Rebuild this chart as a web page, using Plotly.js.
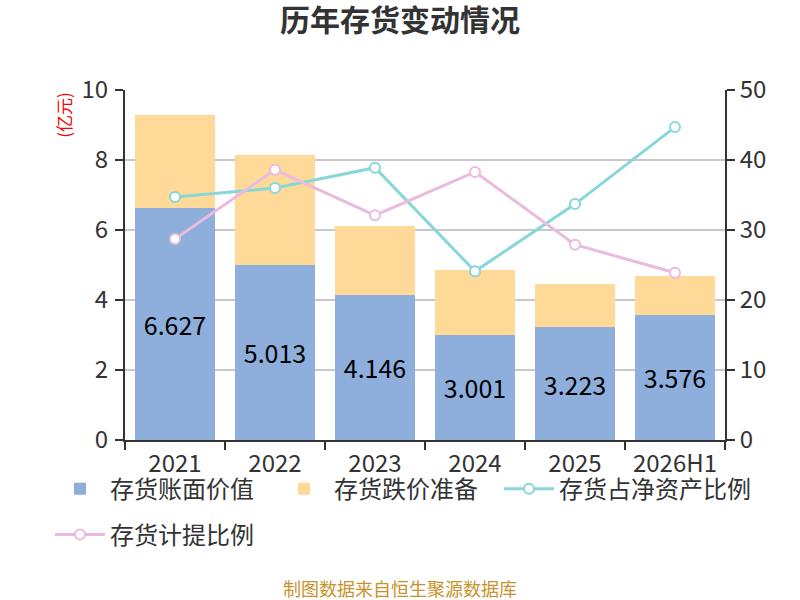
<!DOCTYPE html>
<html>
<head>
<meta charset="utf-8">
<script src="https://cdn.plot.ly/plotly-3.0.1.min.js"></script>
<style>
  html, body { margin: 0; padding: 0; background: #fff; }
  #chart { width: 800px; height: 600px; }
</style>
</head>
<body>
<div id="chart"></div>
<script>
const years = ["2021", "2022", "2023", "2024", "2025", "2026H1"];
const bookValue = [6.627, 5.013, 4.146, 3.001, 3.223, 3.576];
const impairment = [2.66, 3.14, 1.97, 1.86, 1.24, 1.11];
const shareOfNetAssets = [34.7, 36.0, 38.9, 24.1, 33.7, 44.7];
const provisionRatio = [28.7, 38.6, 32.1, 38.3, 27.9, 23.9];

const font = "'Noto Sans CJK SC', 'Noto Sans', sans-serif";
const legendFont = {size: 24, color: "#333", family: font};
const clear = "rgba(0,0,0,0)";

const traces = [
    {
        x: years,
        y: bookValue,
        type: "bar",
        name: "存货账面价值",
        legend: "legend",
        marker: {color: "#8eaedb"},
        text: bookValue.map(v => v.toFixed(3)),
        textposition: "inside",
        insidetextanchor: "middle",
        textfont: {size: 25, color: "#000", family: font},
        hoverinfo: "y"
    },
    {
        x: years,
        y: impairment,
        type: "bar",
        name: "存货跌价准备",
        legend: "legend",
        marker: {color: "#ffd997"},
        hoverinfo: "y"
    },
    {
        x: years,
        y: shareOfNetAssets,
        type: "scatter",
        mode: "lines+markers",
        name: "存货占净资产比例",
        legend: "legend2",
        yaxis: "y2",
        line: {color: "#88d6d8", width: 3},
        marker: {symbol: "circle", size: 10, color: "#fff", line: {color: "#88d6d8", width: 2}}
    },
    {
        x: years,
        y: provisionRatio,
        type: "scatter",
        mode: "lines+markers",
        name: "存货计提比例",
        legend: "legend3",
        yaxis: "y2",
        line: {color: "#e9bbdc", width: 3},
        marker: {symbol: "circle", size: 10, color: "#fff", line: {color: "#e9bbdc", width: 2}}
    }
];

const axisStyle = {
    showline: true,
    linecolor: "#333",
    linewidth: 2,
    ticks: "outside",
    ticklen: 8,
    tickcolor: "#333",
    tickwidth: 2,
    tickfont: {size: 24, color: "#333"}
};

const layout = {
    width: 800,
    height: 600,
    margin: {l: 125, r: 75, t: 90, b: 160},
    paper_bgcolor: "#fff",
    plot_bgcolor: "#fff",
    font: {family: font, color: "#333", size: 24},
    title: {
        text: "<b>历年存货变动情况</b>",
        font: {family: font, size: 30, color: "#333"},
        x: 0.5,
        xanchor: "center",
        y: 0.966,
        yanchor: "middle"
    },
    barmode: "stack",
    bargap: 0.2,
    showlegend: true,
    legend: {
        orientation: "h",
        x: -0.125, xanchor: "left",
        y: -0.076, yanchor: "top",
        bgcolor: clear,
        font: legendFont,
        itemwidth: 50,
        entrywidthmode: "pixels",
        entrywidth: 159,
        traceorder: "normal"
    },
    legend2: {
        orientation: "h",
        x: 0.6233, xanchor: "left",
        y: -0.076, yanchor: "top",
        bgcolor: clear,
        font: legendFont,
        itemwidth: 50
    },
    legend3: {
        orientation: "h",
        x: -0.125, xanchor: "left",
        y: -0.207, yanchor: "top",
        bgcolor: clear,
        font: legendFont,
        itemwidth: 50
    },
    xaxis: Object.assign({}, axisStyle, {
        type: "category",
        tickson: "boundaries",
        ticklabelstandoff: 1,
        showgrid: false
    }),
    yaxis: Object.assign({}, axisStyle, {
        range: [0, 10],
        dtick: 2,
        ticklabelstandoff: 2,
        gridcolor: "#c8c8c8",
        gridwidth: 1.5,
        zeroline: false
    }),
    yaxis2: Object.assign({}, axisStyle, {
        range: [0, 50],
        dtick: 10,
        overlaying: "y",
        side: "right",
        showgrid: false,
        zeroline: false
    }),
    annotations: [
        {
            text: "(亿元)",
            xref: "paper", yref: "paper",
            x: -0.103, y: 0.93,
            xanchor: "center", yanchor: "middle",
            textangle: -90,
            showarrow: false,
            font: {size: 17, color: "#ff0000", family: font}
        },
        {
            text: "(%)",
            xref: "paper", yref: "paper",
            x: 1.135, y: 0.97,
            xanchor: "center", yanchor: "middle",
            textangle: -90,
            showarrow: false,
            font: {size: 17, color: "#ff0000", family: font}
        },
        {
            text: "制图数据来自恒生聚源数据库",
            xref: "paper", yref: "paper",
            x: 0.458, y: -0.423,
            xanchor: "center", yanchor: "middle",
            showarrow: false,
            font: {size: 18, color: "#c8922a", family: font}
        }
    ]
};

Plotly.newPlot("chart", traces, layout, {displayModeBar: false});
</script>
</body>
</html>
